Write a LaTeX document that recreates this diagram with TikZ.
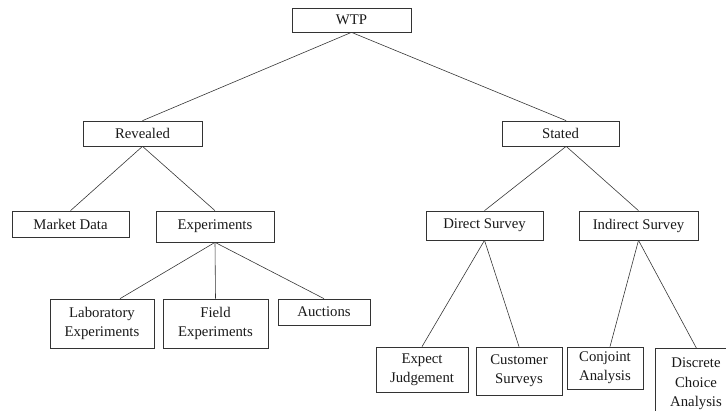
\documentclass[tikz,border=0pt]{standalone}
\usepackage{fontspec}
\setmainfont{Liberation Serif}
\usetikzlibrary{positioning}

\begin{document}
\begin{tikzpicture}[x=0.03cm, y=-0.03cm, font=\fontsize{12.6}{16.5}\selectfont]
    \tikzstyle{box} = [rectangle, draw=black!80, line width=0.6pt, text=black!90, align=center, inner sep=0pt]
    \tikzstyle{link} = [draw=black!80, line width=0.5pt]

    \useasboundingbox (0,0) rectangle (726,410);
    \clip (0,0) rectangle (726,410);

    % Wurzel
    \node[box, minimum width=119*0.03cm, minimum height=24*0.03cm] (wtp) at (351.5,20) {WTP};

    % Zweite Ebene
    \node[box, minimum width=119*0.03cm, minimum height=25*0.03cm] (rev) at (142.5,133.5) {Revealed};
    \node[box, minimum width=117*0.03cm, minimum height=25*0.03cm] (stat) at (560.5,133.5) {Stated};

    % Dritte Ebene
    \node[box, minimum width=117*0.03cm, minimum height=26*0.03cm] (mkt) at (70.5,224) {Market Data};
    \node[box, minimum width=118*0.03cm, minimum height=31*0.03cm] (exp) at (215,226.5) {Experiments};
    \node[box, minimum width=117*0.03cm, minimum height=29*0.03cm] (dir) at (484.5,225.5) {Direct Survey};
    \node[box, minimum width=119*0.03cm, minimum height=29*0.03cm] (ind) at (638.5,225.5) {Indirect Survey};

    % Vierte Ebene
    \node[box, minimum width=104*0.03cm, minimum height=49*0.03cm] (lab) at (102,323.5) {Laboratory\\Experiments};
    \node[box, minimum width=105*0.03cm, minimum height=49*0.03cm] (fld) at (215.5,323.5) {Field\\Experiments};
    \node[box, minimum width=92*0.03cm, minimum height=26*0.03cm] (auc) at (324,312) {Auctions};
    \node[box, minimum width=92*0.03cm, minimum height=45*0.03cm] (expj) at (422,369.5) {Expect\\Judgement};
    \node[box, minimum width=86*0.03cm, minimum height=48*0.03cm] (cust) at (519,371) {Customer\\Surveys};
    \node[box, minimum width=76*0.03cm, minimum height=42*0.03cm] (conj) at (605,368) {Conjoint\\Analysis};
    \node[box, minimum width=94*0.03cm, minimum height=74*0.03cm, anchor=north west] (dca) at (655,348) {};
    \node[align=center, text=black!90] (dcat) at (696,384) {Discrete\\Choice\\Analysis};

    % Verbindungen
    \draw[link] (wtp.south) -- (rev.north);
    \draw[link] (wtp.south) -- ([xshift=0.17cm]stat.north);

    \draw[link] (rev.south) -- (mkt.north);
    \draw[link] (rev.south) -- (exp.north);
    \draw[link] ([xshift=0.17cm]stat.south) -- (dir.north);
    \draw[link] ([xshift=0.17cm]stat.south) -- (ind.north);

    \draw[link] (exp.south) -- ([xshift=0.54cm]lab.north);
    \draw[link] (exp.south) -- (fld.north);
    \draw[link] (exp.south) -- (auc.north);
    \draw[link] (dir.south) -- (expj.north);
    \draw[link] (dir.south) -- (cust.north);
    \draw[link] (ind.south) -- ([xshift=0.15cm]conj.north);
    \draw[link] (ind.south) -- ([xshift=-0.18cm]dca.north);
\end{tikzpicture}
\end{document}
